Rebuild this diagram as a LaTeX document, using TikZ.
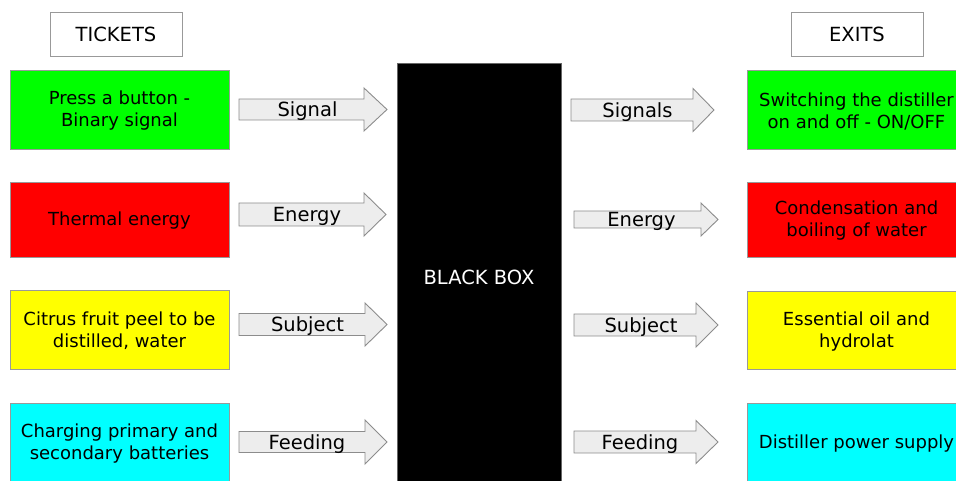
\documentclass[tikz,border=0pt]{standalone}
\usepackage{fontspec}
\setmainfont{DejaVu Sans}
\definecolor{pgreen}{RGB}{0,255,0}
\definecolor{pred}{RGB}{255,0,0}
\definecolor{pyellow}{RGB}{255,255,0}
\definecolor{pcyan}{RGB}{0,255,255}
\begin{document}
\begin{tikzpicture}[x=1pt,y=-1pt,
  boxline/.style={draw=black!40, line width=0.9pt},
  headbox/.style={boxline, fill=white, inner sep=0pt, outer sep=0pt,
    minimum width=132pt, minimum height=44pt, font=\fontsize{19.5}{22}\selectfont},
  itembox/.style={boxline, inner sep=0pt, outer sep=0pt, minimum width=219pt},
  boxtext/.style={inner sep=0pt, align=center, font=\fontsize{18}{22}\selectfont},
  arrowshape/.style={draw=black!45, fill=black!7, line width=0.9pt, line join=miter},
  lbl/.style={inner sep=0pt, font=\fontsize{19.5}{22}\selectfont},
]
\useasboundingbox (0,0) rectangle (956,481);
\clip (0,0) rectangle (956,481);
\newcommand{\blockarr}[9]{%
  \draw[arrowshape] ({#2},{#5-#6}) -- ({#3},{#5-#6}) -- ({#3},{#5-#7}) -- ({#4},{#5})
    -- ({#3},{#5+#7}) -- ({#3},{#5+#6}) -- ({#2},{#5+#6}) -- cycle;
  \node[lbl, anchor=base] (#1) at ({#8},{#5+7.2}) {#9};}

% headers
\node[headbox] (tickets) at (116,34) {TICKETS};
\node[headbox] (exits) at (857,34) {EXITS};

% black box
\node[draw=black!60, fill=black, minimum width=164pt, minimum height=430pt,
      inner sep=0pt, outer sep=0pt, anchor=north] (bb) at (479,63) {};
\node[text=white, font=\fontsize{19.5}{22}\selectfont, inner sep=0pt] (bbl) at (479,277) {BLACK BOX};

% left boxes
\node[itembox, fill=pgreen, minimum height=79pt] (in1) at (119.5,109.5) {};
\node[itembox, fill=pred, minimum height=75pt] (in2) at (119.5,219.5) {};
\node[itembox, fill=pyellow, minimum height=79pt] (in3) at (119.5,329.5) {};
\node[itembox, fill=pcyan, minimum height=79pt] (in4) at (119.5,442.5) {};
\node[boxtext] (in1t) at ([yshift=-1.5pt]in1.center) {Press a button -\\Binary signal};
\node[boxtext] (in2t) at ([yshift=-1.5pt]in2.center) {Thermal energy};
\node[boxtext] (in3t) at ([yshift=-1.5pt]in3.center) {Citrus fruit peel to be\\distilled, water};
\node[boxtext] (in4t) at ([yshift=-1pt]in4.center) {Charging primary and\\secondary batteries};

% right boxes
\node[itembox, fill=pgreen, minimum height=79pt] (out1) at (856.5,109.5) {};
\node[itembox, fill=pred, minimum height=75pt] (out2) at (856.5,219.5) {};
\node[itembox, fill=pyellow, minimum height=78pt] (out3) at (856.5,330) {};
\node[itembox, fill=pcyan, minimum height=79pt] (out4) at (856.5,442.5) {};
\node[boxtext] (out1t) at ([yshift=-1.5pt]out1.center) {Switching the distiller\\on and off - ON/OFF};
\node[boxtext] (out2t) at ([yshift=-1.5pt]out2.center) {Condensation and\\boiling of water};
\node[boxtext] (out3t) at ([yshift=-1.5pt]out3.center) {Essential oil and\\hydrolat};
\node[boxtext] (out4t) at ([yshift=-1pt]out4.center) {Distiller power supply};

% left arrows
\blockarr{a1}{239}{364}{387}{109.5}{10.5}{21.5}{307.5}{Signal}
\blockarr{a2}{239}{364}{386}{214.5}{11.5}{21.5}{307}{Energy}
\blockarr{a3}{239}{365}{387}{324.5}{11}{21.5}{307.5}{Subject}
\blockarr{a4}{239}{365}{387}{442}{10.5}{22}{307}{Feeding}

% right arrows
\blockarr{b1}{571}{693}{714}{110}{11}{21.5}{637.5}{Signals}
\blockarr{b2}{574}{701}{718}{219.5}{8.5}{16.5}{641.5}{Energy}
\blockarr{b3}{574}{696}{718}{325}{11}{22}{641}{Subject}
\blockarr{b4}{574}{696}{718}{442}{11}{21.5}{640}{Feeding}
\end{tikzpicture}
\end{document}
